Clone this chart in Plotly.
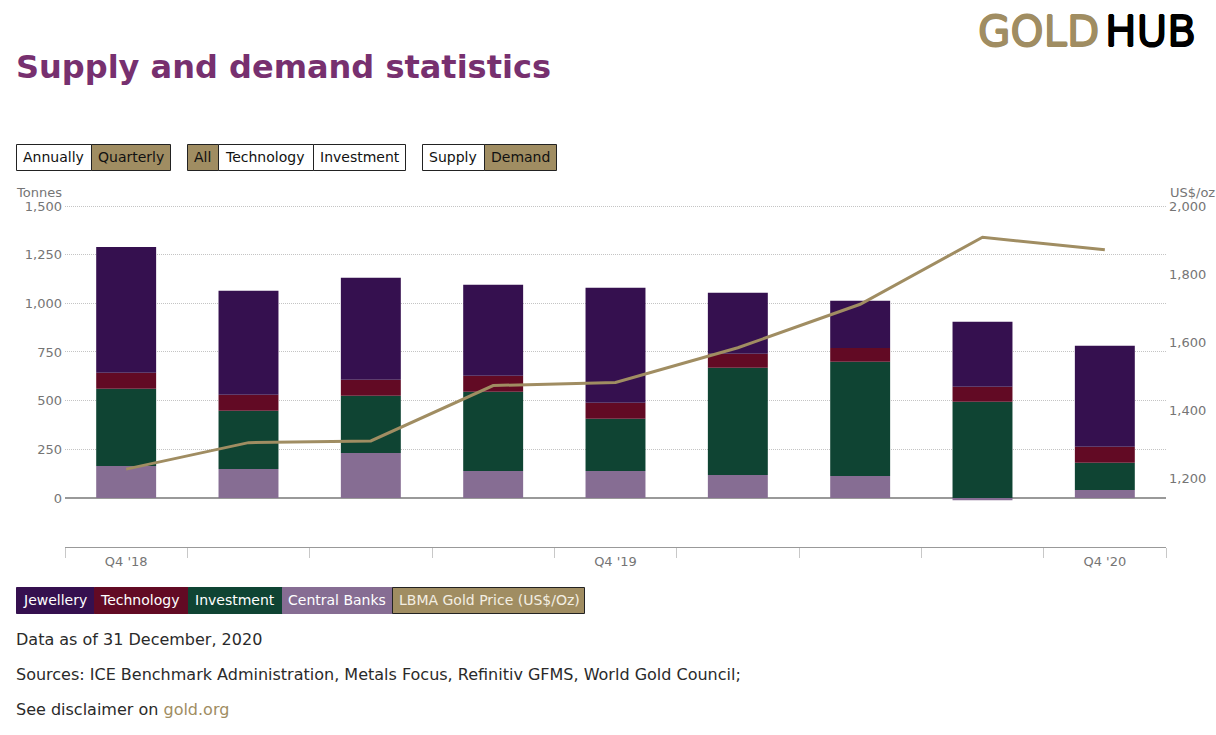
import plotly.graph_objects as go

quarters = ["Q4 '18", "Q1 '19", "Q2 '19", "Q3 '19", "Q4 '19", "Q1 '20", "Q2 '20", "Q3 '20", "Q4 '20"]
tick_labels = ["Q4 '18", "", "", "", "Q4 '19", "", "", "", "Q4 '20"]
central_banks = [164, 149, 231, 139, 139, 118, 113, -12, 41]
investment = [397, 299, 294, 407, 268, 551, 587, 494, 140]
technology = [82, 82, 82, 82, 82, 72, 71, 77, 82]
jewellery = [647, 534, 524, 467, 591, 313, 242, 334, 519]
gold_price = [1226, 1304, 1309, 1472, 1481, 1583, 1711, 1908, 1871]

PURPLE = "#35104f"; RED = "#620a24"; GREEN = "#0f4433"; MAUVE = "#866d93"; GOLD = "#a08d62"
FONT = "DejaVu Sans"
TICK = "#757575"
TEXT = "#2a2a2a"
L, R, T, B = 65, 1166, 204, 547

def px(x): return (x - L) / (R - L)
def py(y): return (B - y) / (B - T)

fig = go.Figure()
for name, vals, col in [("Central Banks", central_banks, MAUVE), ("Investment", investment, GREEN),
                        ("Technology", technology, RED), ("Jewellery", jewellery, PURPLE)]:
    fig.add_bar(x=quarters, y=vals, name=name, marker=dict(color=col, line_width=0), showlegend=False)
fig.add_scatter(x=quarters, y=gold_price, name="LBMA Gold Price (US$/Oz)", yaxis="y2", mode="lines",
                line=dict(color=GOLD, width=3), showlegend=False)

shapes, annos = [], []

def label(x, y, text, size, col, anchor="left", family=FONT, shadow=None):
    # annotations carry about 2px of inner padding, taken off here
    dx = -2 if anchor == "left" else 2
    font = dict(size=size, color=col, family=family)
    if shadow:
        font["shadow"] = shadow
    annos.append(dict(text=text, xref="paper", yref="paper", x=px(x + dx), y=py(y), xanchor=anchor, yanchor="middle",
                      showarrow=False, font=font))

def box(x0, x1, y0, y1, fill, text, tx, tcol, border, ty):
    shapes.append(dict(type="rect", xref="paper", yref="paper", x0=px(x0 + .5), x1=px(x1 + .5), y0=py(y1 + .5), y1=py(y0 + .5),
                       fillcolor=fill, line=dict(color=border, width=1), layer="above"))
    label(tx, ty, text, 14, tcol)

def thick(c):
    return f"0.7px 0 0 {c}, -0.7px 0 0 {c}, 0 0.7px 0 {c}, 0 -0.7px 0 {c}"

for x0, x1, tx, text, on in [(16, 91, 23, "Annually", 0), (91, 170, 98, "Quarterly", 1), (187, 218, 194, "All", 1),
                             (218, 313, 225, "Technology", 0), (313, 405, 320, "Investment", 0),
                             (422, 484, 429, "Supply", 0), (484, 556, 491, "Demand", 1)]:
    box(x0, x1, 144, 170, GOLD if on else "white", text, tx, "#111111", "#222222", 157)

for x0, x1, tx, text, col, bord, tc in [(16, 94, 23, "Jewellery", PURPLE, PURPLE, "white"),
                                        (94, 188, 100, "Technology", RED, RED, "white"),
                                        (188, 282, 195, "Investment", GREEN, GREEN, "white"),
                                        (282, 392, 288, "Central Banks", MAUVE, MAUVE, "white"),
                                        (392, 584, 399, "LBMA Gold Price (US$/Oz)", GOLD, "#222222", "#f4efe2")]:
    box(x0, x1, 587, 613, col, text, tx, tc, bord, 600)

label(16, 67, "<b>Supply and demand statistics</b>", 32, "#77306f")
label(1099, 32, "GOLD", 42, GOLD, "right", shadow=thick(GOLD))
label(1105, 32, "HUB", 42, "#000000", "left", shadow=thick("#000000"))
label(62, 192.6, "Tonnes", 13, TICK, "right")
label(1170, 192.6, "US$/oz", 13, TICK, "left")
label(16, 639, "Data as of 31 December, 2020", 16, TEXT)
label(16, 674, "Sources: ICE Benchmark Administration, Metals Focus, Refinitiv GFMS, World Gold Council;", 16, TEXT)
label(16, 709, f"See disclaimer on <span style='color:{GOLD}'>gold.org</span>", 16, TEXT)

fig.update_layout(
    width=1216, height=735, margin=dict(l=L, r=1216 - R, t=T, b=735 - B, autoexpand=False),
    paper_bgcolor="white", plot_bgcolor="white", barmode="relative", bargap=0.51,
    font=dict(family=FONT, size=13, color=TICK),
    shapes=shapes, annotations=annos,
    xaxis=dict(type="category", tickmode="array", tickvals=quarters, ticktext=tick_labels, tickson="boundaries",
               ticks="outside", ticklen=10, tickcolor="#c8c8c8", showline=True, linecolor="#999999", linewidth=1,
               showgrid=False, zeroline=False, tickfont=dict(size=13, color=TICK), ticklabelstandoff=2),
    yaxis=dict(range=[-252, 1510.3], tickmode="array", tickvals=[0, 250, 500, 750, 1000, 1250, 1500],
               tickformat=",d", showgrid=True, gridcolor="#c4c4c4", griddash="1px,1px", gridwidth=1,
               zeroline=True, zerolinecolor="#999999", zerolinewidth=1.5, ticks="", showline=False,
               ticklabelstandoff=2),
    yaxis2=dict(range=[997, 2005.9], overlaying="y", side="right", tickmode="array",
                tickvals=[1200, 1400, 1600, 1800, 2000], tickformat=",d", showgrid=False, zeroline=False, ticks="",
                showline=False, ticklabelstandoff=2),
)
fig.write_html("out.html", config=dict(displayModeBar=False),
               post_script="document.body.style.margin='0';document.body.style.overflow='hidden';")
